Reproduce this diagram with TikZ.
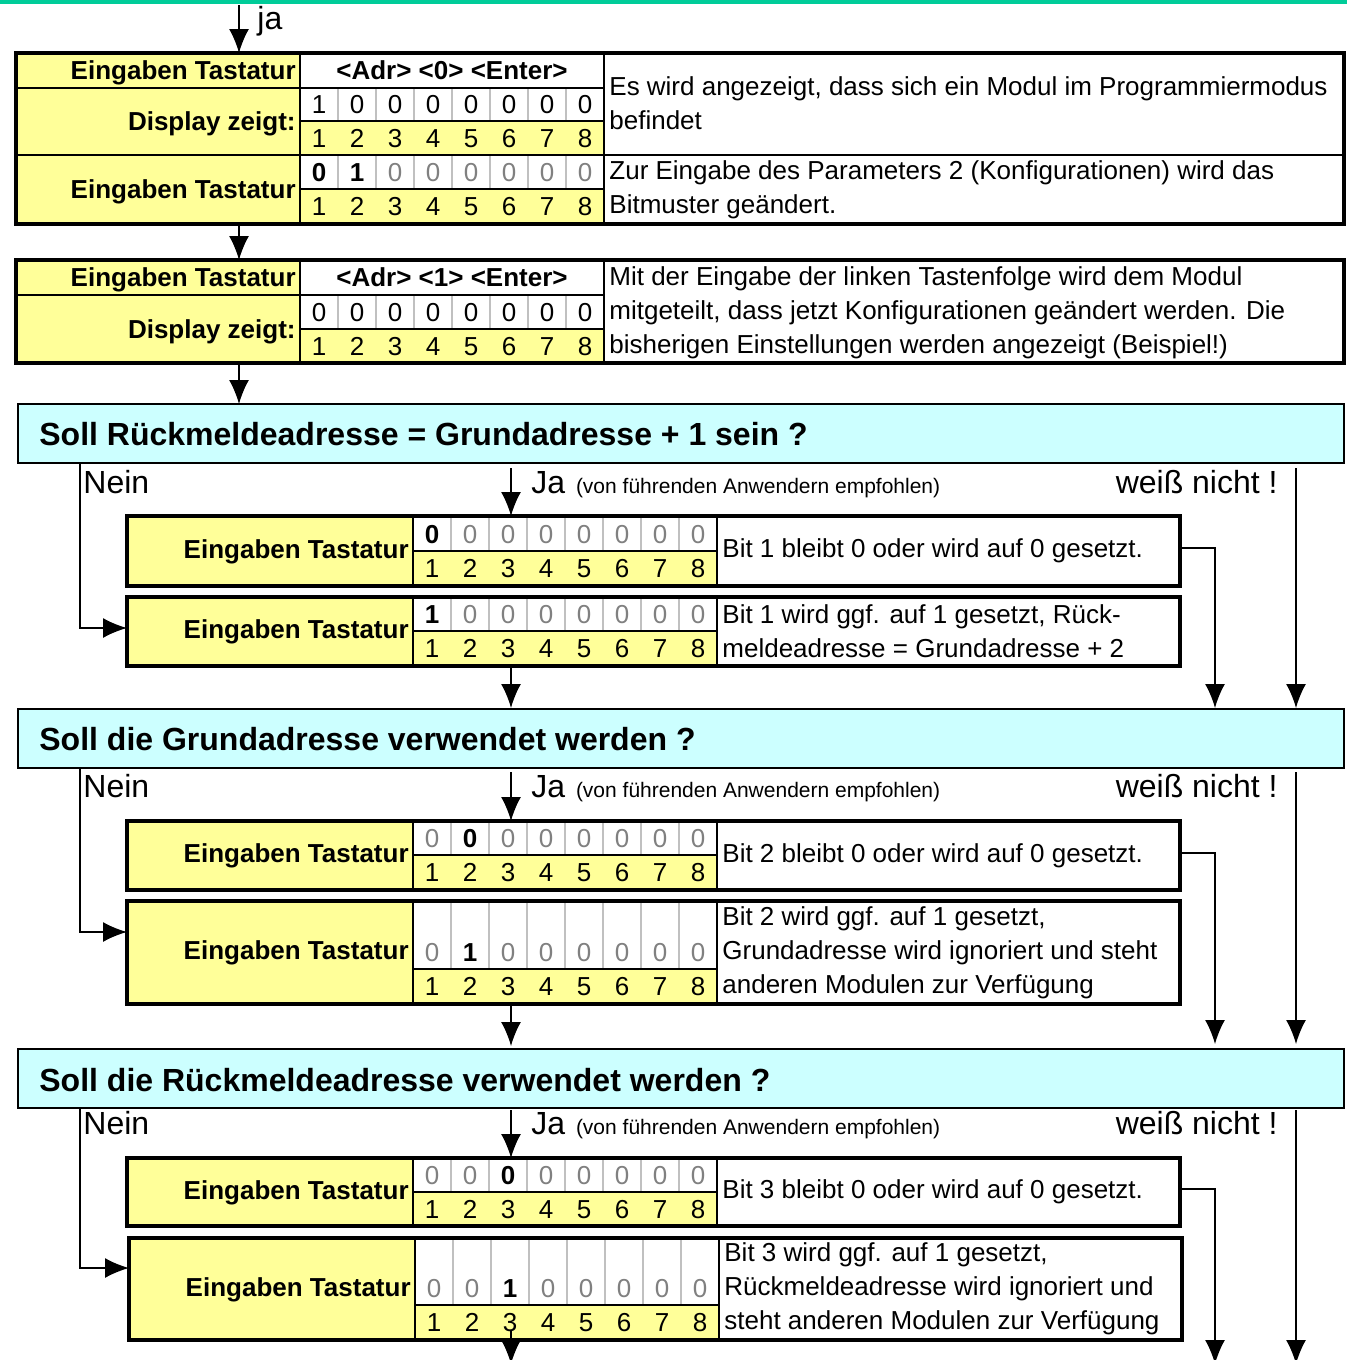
\documentclass[tikz,border=0pt]{standalone}
\usepackage{fontspec}
\setmainfont{Liberation Sans}
\usetikzlibrary{arrows.meta}

\definecolor{tabyellow}{HTML}{FFFF99}
\definecolor{askcyan}{HTML}{CCFFFF}
\definecolor{topteal}{HTML}{00CC99}
\definecolor{offgray}{HTML}{808080}
\definecolor{gridgray}{HTML}{C0C0C0}

\newcommand{\gz}{\textcolor{offgray}{0}}
\newcommand{\bz}{\textbf{0}}
\newcommand{\bo}{\textbf{1}}

% bit cells: left x, top of values, values/numbers split, bottom, values, prefix
\newcommand{\bitcells}[6]{%
  \fill[tabyellow] ({#1},{#3}) rectangle ({#1+304},{#4});
  \foreach \k in {1,...,7}
    \draw[gridline] ({#1+38*\k},{#2}) -- ({#1+38*\k},{#3});
  \foreach \v [count=\k] in {#5}
    \node[bit] (#6-v\k) at ({#1+38*\k-19},{#3-17}) {\v};
  \foreach \k in {1,...,8}
    \node[bit] (#6-n\k) at ({#1+38*\k-19},{(#3+#4)/2}) {\k};
  \draw[rule] ({#1},{#3}) -- ({#1+304},{#3});
}

% one answer row: left x, top, split, bottom, values, prefix, text
\newcommand{\choicebox}[7]{%
  \fill[tabyellow] ({#1},{#2}) rectangle ({#1+286},{#4});
  \bitcells{#1+286}{#2}{#3}{#4}{#5}{#6}
  \draw[rule] ({#1+286},{#2}) -- ({#1+286},{#4}) ({#1+590},{#2}) -- ({#1+590},{#4});
  \draw[boxframe] ({#1},{#2}) rectangle ({#1+1053},{#4});
  \node[lefttext, anchor=east] (#6-lbl) at ({#1+286},{(#2+#4)/2-2}) {Eingaben Tastatur};
  \node[desc, anchor=west] (#6-txt) at ({#1+591},{(#2+#4)/2}) {#7};
}

\begin{document}
\begin{tikzpicture}[
    x=0.5pt, y=-0.5pt,
    rule/.style={line width=1pt},
    boxframe/.style={line width=1.6pt},
    gridline/.style={gridgray, line width=0.8pt},
    askframe/.style={fill=askcyan, draw=black, line width=1pt},
    flow/.style={draw, line width=0.8pt, -{Latex[length=12pt,width=10pt]}},
    lefttext/.style={font=\bfseries\fontsize{13}{17}\selectfont, inner xsep=2pt, inner ysep=0pt, text height=9.4pt, text depth=0pt},
    keys/.style={font=\bfseries\fontsize{13}{17}\selectfont, inner sep=0pt, text height=9.4pt, text depth=0pt},
    bit/.style={font=\fontsize{13}{17}\selectfont, inner sep=0pt, text height=9.4pt, text depth=0pt},
    desc/.style={font=\fontsize{13}{17}\selectfont, align=left, inner xsep=2pt, inner ysep=0pt},
    ask/.style={font=\bfseries\fontsize{16}{19}\selectfont, inner sep=0pt, text height=11.5pt, text depth=0pt},
    branch/.style={font=\fontsize{16}{19}\selectfont, inner sep=0pt, text height=11.5pt, text depth=0pt},
    hint/.style={font=\fontsize{10.5}{12}\selectfont, inner sep=0pt}
    ]
\useasboundingbox (0,0) rectangle (1347,1360);
\fill[topteal] (0,0) rectangle (1347,4);

% programming mode
\fill[tabyellow] (16,53) rectangle (300,224);
\bitcells{300}{88}{121}{155}{1,0,0,0,0,0,0,0}{d1}
\bitcells{300}{155}{189}{224}{\bz,\bo,\gz,\gz,\gz,\gz,\gz,\gz}{e1}
\draw[rule] (300,53) -- (300,224) (604,53) -- (604,224) (16,88) -- (604,88) (16,155) -- (1344,155);
\draw[boxframe] (16,53) rectangle (1344,224);
\node[lefttext, anchor=east] (t1-in) at (300,70) {Eingaben Tastatur};
\node[keys] (t1-keys) at (452,70) {<Adr> <0> <Enter>};
\node[lefttext, anchor=east] (t1-disp) at (300,121) {Display zeigt:};
\node[lefttext, anchor=east] (t1-in2) at (300,189) {Eingaben Tastatur};
\node[desc, anchor=west] (t1-txt) at (605,103) {Es wird angezeigt, dass sich ein Modul im Programmiermodus\\befindet};
\node[desc, anchor=west] (t1-txt2) at (605,190) {Zur Eingabe des Parameters 2 (Konfigurationen) wird das\\Bitmuster geändert.};

% parameter 2
\fill[tabyellow] (16,260) rectangle (300,363);
\bitcells{300}{295}{329}{363}{0,0,0,0,0,0,0,0}{d2}
\draw[rule] (300,260) -- (300,363) (604,260) -- (604,363) (16,295) -- (604,295);
\draw[boxframe] (16,260) rectangle (1344,363);
\node[lefttext, anchor=east] (t2-in) at (300,277) {Eingaben Tastatur};
\node[keys] (t2-keys) at (452,277) {<Adr> <1> <Enter>};
\node[lefttext, anchor=east] (t2-disp) at (300,329) {Display zeigt:};
\node[desc, anchor=west] (t2-txt) at (605,313) {Mit der Eingabe der linken Tastenfolge wird dem Modul\\mitgeteilt, dass jetzt Konfigurationen geändert werden. Die\\bisherigen Einstellungen werden angezeigt (Beispiel!)};

\coordinate (top-in) at (239,5);
\coordinate (t1-n) at (239,53);
\coordinate (t1-s) at (239,225);
\coordinate (t2-n) at (239,260);
\coordinate (t2-s) at (239,364);
\coordinate (q1-n) at (239,404);
\node[branch, anchor=base west] (ja-top) at (257,29) {ja};
\draw[flow] (top-in) -- (t1-n);
\draw[flow] (t1-s) -- (t2-n);
\draw[flow] (t2-s) -- (q1-n);

% question 1
\draw[askframe] (18,404) rectangle (1344,463);
\node[ask, anchor=west] (q1) at (39,434) {Soll Rückmeldeadresse = Grundadresse + 1 sein ?};
\coordinate (q1-nein) at (80,464);
\coordinate (q1-ja) at (511,468);
\coordinate (q1-weiss) at (1296,468);
\node[branch, anchor=west] (q1-nein-lbl) at (83,482) {Nein};
\node[branch, anchor=west] (q1-ja-lbl) at (531,482) {Ja};
\node[hint, anchor=base west] (q1-hint) at ([xshift=5pt]q1-ja-lbl.base east) {(von führenden Anwendern empfohlen)};
\node[branch, anchor=east] (q1-weiss-lbl) at (1278,482) {weiß nicht !};

\choicebox{127}{516}{551}{586}{\bz,\gz,\gz,\gz,\gz,\gz,\gz,\gz}{s1a}{Bit 1 bleibt 0 oder wird auf 0 gesetzt.}
\choicebox{127}{597}{631}{666}{\bo,\gz,\gz,\gz,\gz,\gz,\gz,\gz}{s1b}{Bit 1 wird ggf. auf 1 gesetzt, Rück-\\meldeadresse = Grundadresse + 2}
\coordinate (s1a-n) at (511,516);
\coordinate (s1b-w) at (127,628);
\coordinate (s1a-e) at (1180,548);
\coordinate (s1b-s) at (511,667);
\coordinate (q2-n) at (511,708);
\coordinate (q2-ne) at (1215,708);
\coordinate (q2-nee) at (1296,708);
\draw[flow] (q1-ja) -- (s1a-n);
\draw[flow] (q1-nein) |- (s1b-w);
\draw[flow] (s1a-e) -| (q2-ne);
\draw[flow] (q1-weiss) -- (q2-nee);
\draw[flow] (s1b-s) -- (q2-n);

% question 2
\draw[askframe] (18,709) rectangle (1344,768);
\node[ask, anchor=west] (q2) at (39,739) {Soll die Grundadresse verwendet werden ?};
\coordinate (q2-nein) at (80,769);
\coordinate (q2-ja) at (511,772);
\coordinate (q2-weiss) at (1296,772);
\node[branch, anchor=west] (q2-nein-lbl) at (83,786) {Nein};
\node[branch, anchor=west] (q2-ja-lbl) at (531,786) {Ja};
\node[hint, anchor=base west] (q2-hint) at ([xshift=5pt]q2-ja-lbl.base east) {(von führenden Anwendern empfohlen)};
\node[branch, anchor=east] (q2-weiss-lbl) at (1278,786) {weiß nicht !};

\choicebox{127}{821}{855}{890}{\gz,\bz,\gz,\gz,\gz,\gz,\gz,\gz}{s2a}{Bit 2 bleibt 0 oder wird auf 0 gesetzt.}
\choicebox{127}{901}{969}{1004}{\gz,\bo,\gz,\gz,\gz,\gz,\gz,\gz}{s2b}{Bit 2 wird ggf. auf 1 gesetzt,\\Grundadresse wird ignoriert und steht\\anderen Modulen zur Verfügung}
\coordinate (s2a-n) at (511,821);
\coordinate (s2b-w) at (127,932);
\coordinate (s2a-e) at (1180,853);
\coordinate (s2b-s) at (511,1005);
\coordinate (q3-n) at (511,1046);
\coordinate (q3-ne) at (1215,1044);
\coordinate (q3-nee) at (1296,1044);
\draw[flow] (q2-ja) -- (s2a-n);
\draw[flow] (q2-nein) |- (s2b-w);
\draw[flow] (s2a-e) -| (q3-ne);
\draw[flow] (q2-weiss) -- (q3-nee);
\draw[flow] (s2b-s) -- (q3-n);

% question 3
\draw[askframe] (18,1049) rectangle (1344,1108);
\node[ask, anchor=west] (q3) at (39,1080) {Soll die Rückmeldeadresse verwendet werden ?};
\coordinate (q3-nein) at (80,1109);
\coordinate (q3-ja) at (511,1110);
\coordinate (q3-weiss) at (1296,1110);
\node[branch, anchor=west] (q3-nein-lbl) at (83,1123) {Nein};
\node[branch, anchor=west] (q3-ja-lbl) at (531,1123) {Ja};
\node[hint, anchor=base west] (q3-hint) at ([xshift=5pt]q3-ja-lbl.base east) {(von führenden Anwendern empfohlen)};
\node[branch, anchor=east] (q3-weiss-lbl) at (1278,1123) {weiß nicht !};

\choicebox{127}{1158}{1192}{1226}{\gz,\gz,\bz,\gz,\gz,\gz,\gz,\gz}{s3a}{Bit 3 bleibt 0 oder wird auf 0 gesetzt.}
\choicebox{129}{1238}{1305}{1340}{\gz,\gz,\bo,\gz,\gz,\gz,\gz,\gz}{s3b}{Bit 3 wird ggf. auf 1 gesetzt,\\Rückmeldeadresse wird ignoriert und\\steht anderen Modulen zur Verfügung}
\coordinate (s3a-n) at (511,1158);
\coordinate (s3b-w) at (129,1268);
\coordinate (s3a-e) at (1180,1189);
\coordinate (s3b-s) at (511,1331);
\coordinate (end-ja) at (511,1364);
\coordinate (end-ne) at (1215,1364);
\coordinate (end-nee) at (1296,1364);
\draw[flow] (q3-ja) -- (s3a-n);
\draw[flow] (q3-nein) |- (s3b-w);
\draw[flow] (s3a-e) -| (end-ne);
\draw[flow] (q3-weiss) -- (end-nee);
\draw[flow] (s3b-s) -- (end-ja);
\end{tikzpicture}
\end{document}
